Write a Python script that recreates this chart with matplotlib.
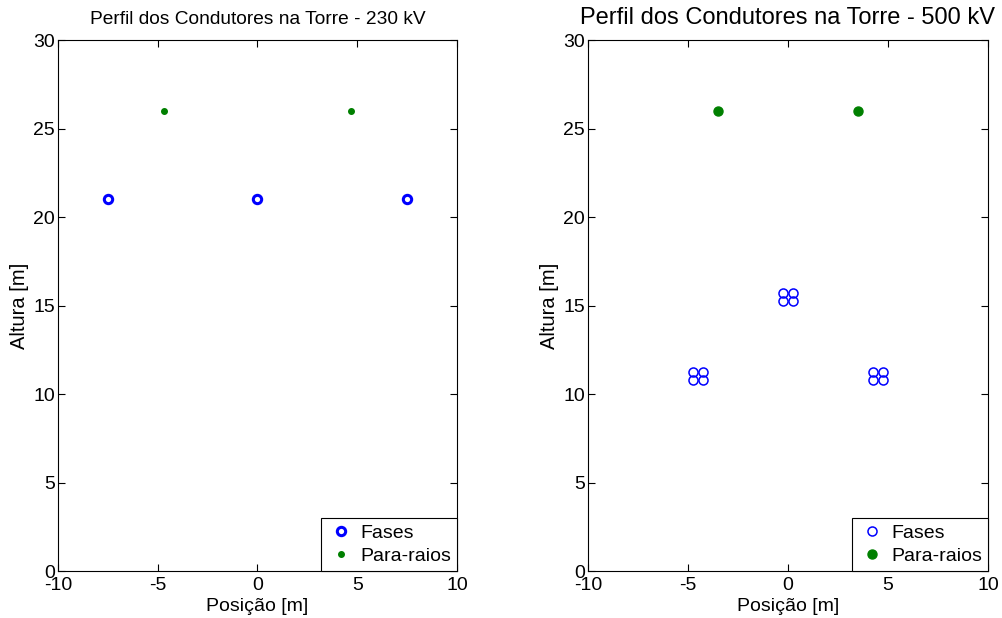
import matplotlib
matplotlib.use("Agg")
import matplotlib.pyplot as plt

plt.rcParams["font.family"] = ["Liberation Sans", "DejaVu Sans"]
plt.rcParams["axes.unicode_minus"] = False

# 230 kV tower
fases_230_x = [-7.5, 0.0, 7.5]
fases_230_y = [21.0, 21.0, 21.0]
raios_230_x = [-4.7, 4.7]
raios_230_y = [26.0, 26.0]

# 500 kV tower (4-conductor bundles)
fases_500_x = [-4.73, -4.27, -4.73, -4.27,
               -0.23, 0.23, -0.23, 0.23,
               4.27, 4.73, 4.27, 4.73]
fases_500_y = [10.77, 10.77, 11.23, 11.23,
               15.27, 15.27, 15.73, 15.73,
               10.77, 10.77, 11.23, 11.23]
raios_500_x = [-3.5, 3.5]
raios_500_y = [26.0, 26.0]

x_ticks = [-10, -5, 0, 5, 10]
y_ticks = [0, 5, 10, 15, 20, 25, 30]

fig = plt.figure(figsize=(10.03, 6.18), dpi=100)
ax1 = fig.add_axes([0.0578, 0.076, 0.3978, 0.859])
ax2 = fig.add_axes([0.5862, 0.076, 0.3988, 0.859])


def style(ax, title, title_size):
    ax.set_xlim(-10, 10)
    ax.set_ylim(0, 30)
    ax.set_xticks(x_ticks)
    ax.set_yticks(y_ticks)
    ax.tick_params(direction="in", labelsize=14, length=5, top=True, right=True, pad=2)
    ax.tick_params(axis="x", pad=4)
    ax.set_xlabel("Posição [m]", fontsize=14, labelpad=3)
    ax.set_ylabel("Altura [m]", fontsize=14.5, labelpad=3)
    ax.set_title(title, fontsize=title_size, pad=12)
    for sp in ax.spines.values():
        sp.set_linewidth(0.8)
    leg = ax.legend(loc="lower right", fontsize=14, fancybox=False, framealpha=1,
                    edgecolor="black", borderaxespad=0, handletextpad=0.3,
                    handlelength=1.4, borderpad=0.3, labelspacing=0.3)
    leg.get_frame().set_linewidth(0.8)


ax1.plot(fases_230_x, fases_230_y, "o", color="blue", mfc="none", ms=6, mew=2.2,
         linestyle="none", label="Fases")
ax1.plot(raios_230_x, raios_230_y, "o", color="green", ms=4, linestyle="none",
         label="Para-raios")
style(ax1, "Perfil dos Condutores na Torre - 230 kV", 13.8)

ax2.plot(fases_500_x, fases_500_y, "o", color="blue", mfc="none", ms=6.5, mew=1.1,
         linestyle="none", label="Fases")
ax2.plot(raios_500_x, raios_500_y, "o", color="green", ms=6.5, linestyle="none",
         label="Para-raios")
style(ax2, "Perfil dos Condutores na Torre - 500 kV", 17)

fig.savefig("out.png", dpi=100)
